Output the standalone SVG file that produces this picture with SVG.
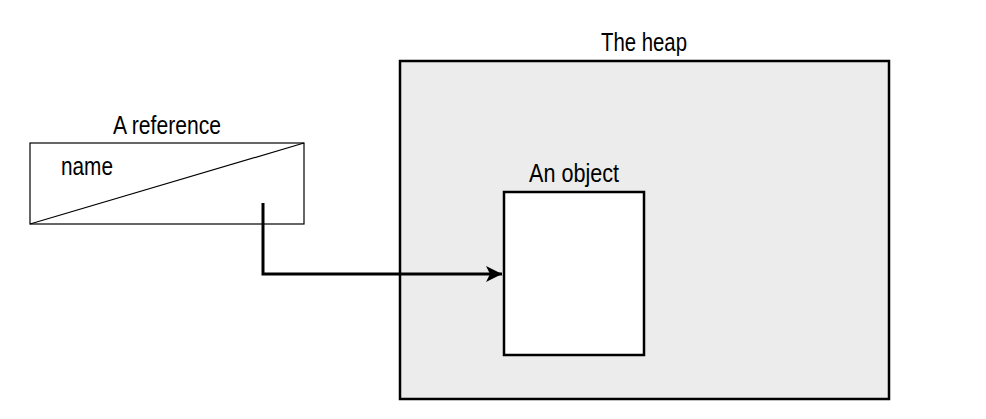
<svg xmlns="http://www.w3.org/2000/svg" width="986" height="419" viewBox="0 0 986 419">
<style>
text{font-family:"Liberation Sans Narrow","Liberation Sans",Arial,sans-serif;font-size:25px;fill:#000}
.thin{fill:#fff;stroke:#000;stroke-width:1.2}
.box{stroke:#000;stroke-width:2.5}
.conn{fill:none;stroke:#000;stroke-width:3}
</style>
<defs>
<marker id="arr" markerUnits="userSpaceOnUse" markerWidth="18" markerHeight="16" refX="16" refY="8" orient="auto">
<path d="M0,0 L16,8 L0,16 L4,8 Z" fill="#000"/>
</marker>
</defs>
<rect width="986" height="419" fill="#fff"/>
<g id="heap">
<rect class="box" x="400" y="61" width="489" height="338" fill="#ececec"/>
<text x="601" y="51" textLength="86" lengthAdjust="spacingAndGlyphs">The heap</text>
</g>
<g id="object">
<rect class="box" x="504" y="192" width="140" height="163" fill="#fff"/>
<text x="529" y="182" textLength="90" lengthAdjust="spacingAndGlyphs">An object</text>
</g>
<g id="reference">
<rect class="thin" x="30" y="143" width="274" height="81"/>
<line x1="30" y1="224" x2="304" y2="143" stroke="#000" stroke-width="1.2"/>
<text x="113" y="134" textLength="108" lengthAdjust="spacingAndGlyphs">A reference</text>
<text x="61" y="175" textLength="52" lengthAdjust="spacingAndGlyphs">name</text>
</g>
<g id="connectors">
<path class="conn" d="M263,203 V274 H502" marker-end="url(#arr)"/>
</g>
</svg>
